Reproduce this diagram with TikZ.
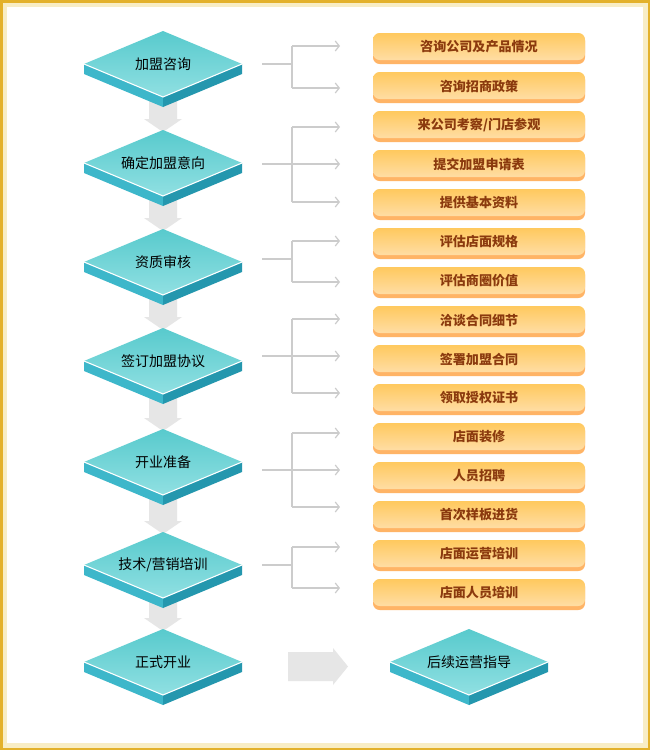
\documentclass[tikz,border=0pt]{standalone}
\usepackage{fontspec}
\newfontfamily\cjk{Noto Sans CJK SC}
\usetikzlibrary{arrows.meta}
\definecolor{gold}{HTML}{E3B12A}
\definecolor{cream}{HTML}{F8EDC4}
\definecolor{agray}{HTML}{E6E6E6}
\definecolor{lgray}{HTML}{CCCCCC}
\definecolor{dtop}{HTML}{58CACD}
\definecolor{dbot}{HTML}{90E0E2}
\definecolor{dleftc}{HTML}{3DB7CA}
\definecolor{drightc}{HTML}{2497AE}
\definecolor{btop}{HTML}{FFC95E}
\definecolor{bbot}{HTML}{FFDDA4}
\definecolor{bshadow}{HTML}{FFB466}
\definecolor{btextc}{HTML}{8B3A0E}
\tikzset{
  dtext/.style={font=\cjk\fontsize{10.5pt}{12pt}\selectfont, text=black, inner sep=0pt},
  btext/.style={font=\cjk\bfseries\fontsize{9.8pt}{12pt}\selectfont, text=btextc, inner sep=0pt},
  conn/.style={draw=lgray, line width=0.9pt},
  connarrow/.style={conn, -{Straight Barb[length=3pt,width=7.5pt,line width=0.9pt]}},
  bigarrow/.style={fill=agray, draw=none},
}
\newcommand\isodia[4]{%
  \fill[dleftc] (#2-79,#3) -- (#2,#3+33) -- (#2,#3+43) -- (#2-79,#3+10) -- cycle;
  \fill[drightc] (#2+79,#3) -- (#2,#3+33) -- (#2,#3+43) -- (#2+79,#3+10) -- cycle;
  \shade[top color=dtop, bottom color=dbot] (#2,#3-33) -- (#2+79,#3) -- (#2,#3+33) -- (#2-79,#3) -- cycle;
  \draw[white, line width=0.8pt] (#2-79,#3) -- (#2,#3+33) -- (#2+79,#3);
  \node[dtext] (#1) at (#2,#3) {#4};
}
\newcommand\obox[3]{%
  \fill[bshadow, rounded corners=5] (373,#2-13) rectangle (585,#2+17);
  \shade[top color=btop, bottom color=bbot, rounded corners=5] (373,#2-14) rectangle (585,#2+13);
  \node[btext] (#1) at (479,#2) {#3};
}
\newcommand\vdown[3]{% name, cy (from), ncy (next)
  \fill[bigarrow] (149,#2+34) -- (177,#2+34) -- (177,#3-44) -- (182,#3-44) -- (163,#3-31)
     -- (144,#3-44) -- (149,#3-44) -- cycle;
  \coordinate (#1) at (163,#3-31);
}
\begin{document}
\begin{tikzpicture}[x=0.75pt,y=-0.75pt]
\useasboundingbox (0,0) rectangle (650,750);
% frame
\fill[gold] (0,0) rectangle (650,750);
\fill[cream] (2.5,2.5) rectangle (647.5,747.5);
\fill[white] (7,7) rectangle (643,743);

% vertical flow arrows
\vdown{v1}{64}{163}
\vdown{v2}{163}{262}
\vdown{v3}{262}{361}
\vdown{v4}{361}{462}
\vdown{v5}{462}{565}
\vdown{v6}{565}{662}

% diamonds
\isodia{d1}{163}{64}{加盟咨询}
\isodia{d2}{163}{163}{确定加盟意向}
\isodia{d3}{163}{262}{资质审核}
\isodia{d4}{163}{361}{签订加盟协议}
\isodia{d5}{163}{462}{开业准备}
\isodia{d6}{163}{565}{技术/营销培训}
\isodia{d7}{163}{662}{正式开业}
\isodia{d8}{469}{662}{后续运营指导}

% horizontal big arrow
\fill[bigarrow] (288,652) -- (333,652) -- (333,648) -- (348,666.5) -- (333,685) -- (333,681) -- (288,681) -- cycle;

% orange boxes
\obox{b1}{47}{咨询公司及产品情况}
\obox{b2}{86}{咨询招商政策}
\obox{b3}{125}{来公司考察/门店参观}
\obox{b4}{164}{提交加盟申请表}
\obox{b5}{203}{提供基本资料}
\obox{b6}{242}{评估店面规格}
\obox{b7}{281}{评估商圈价值}
\obox{b8}{320}{洽谈合同细节}
\obox{b9}{359}{签署加盟合同}
\obox{b10}{398}{领取授权证书}
\obox{b11}{437}{店面装修}
\obox{b12}{476}{人员招聘}
\obox{b13}{515}{首次样板进货}
\obox{b14}{554}{店面运营培训}
\obox{b15}{593}{店面人员培训}

% branch connectors
\coordinate (g1s) at (262,64);  \coordinate (g1j) at (292,64);
\coordinate (g1t) at (292,46);  \coordinate (g1b) at (292,88);
\coordinate (g1e1) at (340,46); \coordinate (g1e2) at (340,88);
\draw[conn] (g1s) -- (g1j);
\draw[conn] (g1t) -- (g1b);
\draw[connarrow] (g1t) -- (g1e1);
\draw[connarrow] (g1b) -- (g1e2);

\coordinate (g2s) at (262,164); \coordinate (g2j) at (292,164);
\coordinate (g2t) at (292,127); \coordinate (g2b) at (292,202);
\coordinate (g2e1) at (340,127); \coordinate (g2e2) at (340,164); \coordinate (g2e3) at (340,202);
\draw[conn] (g2s) -- (g2j);
\draw[conn] (g2t) -- (g2b);
\draw[connarrow] (g2t) -- (g2e1);
\draw[connarrow] (g2j) -- (g2e2);
\draw[connarrow] (g2b) -- (g2e3);

\coordinate (g3s) at (262,259); \coordinate (g3j) at (292,259);
\coordinate (g3t) at (292,241); \coordinate (g3b) at (292,282);
\coordinate (g3e1) at (340,241); \coordinate (g3e2) at (340,282);
\draw[conn] (g3s) -- (g3j);
\draw[conn] (g3t) -- (g3b);
\draw[connarrow] (g3t) -- (g3e1);
\draw[connarrow] (g3b) -- (g3e2);

\coordinate (g4s) at (262,356); \coordinate (g4j) at (292,356);
\coordinate (g4t) at (292,319); \coordinate (g4b) at (292,393);
\coordinate (g4e1) at (340,319); \coordinate (g4e2) at (340,356); \coordinate (g4e3) at (340,393);
\draw[conn] (g4s) -- (g4j);
\draw[conn] (g4t) -- (g4b);
\draw[connarrow] (g4t) -- (g4e1);
\draw[connarrow] (g4j) -- (g4e2);
\draw[connarrow] (g4b) -- (g4e3);

\coordinate (g5s) at (262,470); \coordinate (g5j) at (292,470);
\coordinate (g5t) at (292,433); \coordinate (g5b) at (292,507);
\coordinate (g5e1) at (340,433); \coordinate (g5e2) at (340,470); \coordinate (g5e3) at (340,507);
\draw[conn] (g5s) -- (g5j);
\draw[conn] (g5t) -- (g5b);
\draw[connarrow] (g5t) -- (g5e1);
\draw[connarrow] (g5j) -- (g5e2);
\draw[connarrow] (g5b) -- (g5e3);

\coordinate (g6s) at (262,565); \coordinate (g6j) at (292,565);
\coordinate (g6t) at (292,547); \coordinate (g6b) at (292,588);
\coordinate (g6e1) at (340,547); \coordinate (g6e2) at (340,588);
\draw[conn] (g6s) -- (g6j);
\draw[conn] (g6t) -- (g6b);
\draw[connarrow] (g6t) -- (g6e1);
\draw[connarrow] (g6b) -- (g6e2);
\end{tikzpicture}
\end{document}
